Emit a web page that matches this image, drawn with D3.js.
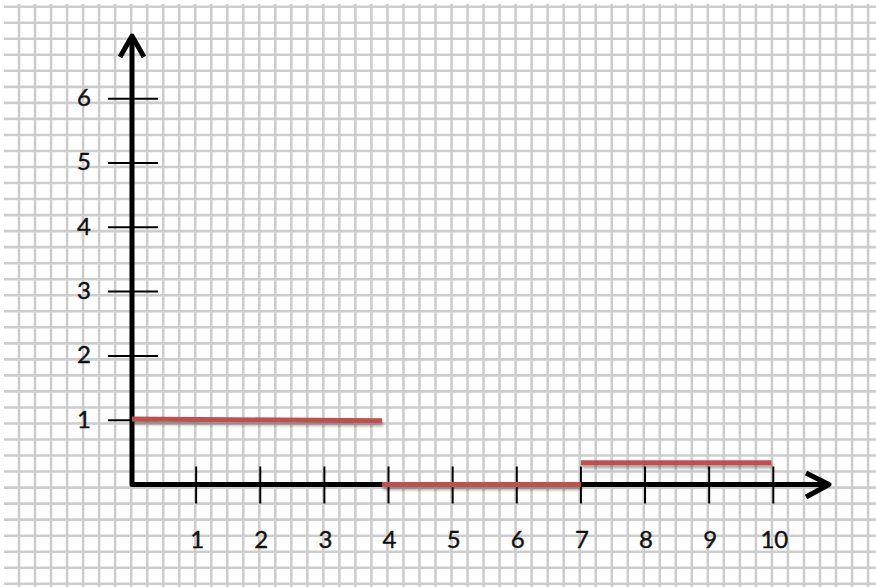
<!DOCTYPE html>
<html>
<head>
<meta charset="utf-8">
<script src="https://cdn.jsdelivr.net/npm/d3@7"></script>
<style>
  body { margin: 0; background: #fff; }
  text { font-family: Lato, "Open Sans", sans-serif; }
</style>
</head>
<body>
<div id="body"></div>
<script>
// tick labels
var xTicks = [1, 2, 3, 4, 5, 6, 7, 8, 9, 10];
var yTicks = [1, 2, 3, 4, 5, 6];

// step pieces: start x, end x, value at start, value at end
var stepStart = [0, 3.9, 7];
var stepEnd = [3.9, 7, 9.97];
var stepFrom = [1.02, 0, 0.34];
var stepTo = [0.99, 0, 0.34];

var width = 876;
var height = 587;

var x = d3.scaleLinear().domain([0, 10]).range([132, 773.3]);
var y = d3.scaleLinear().domain([0, 6]).range([484.5, 98.7]);

var svg = d3.select("#body")
  .append("svg")
  .attr("width", width)
  .attr("height", height);

svg.append("rect")
  .attr("width", width)
  .attr("height", height)
  .attr("fill", "#fff");

// user space region, a flat line has no bbox height
var shadow = svg.append("defs").append("filter")
  .attr("id", "shadow")
  .attr("filterUnits", "userSpaceOnUse")
  .attr("x", 0).attr("y", 0)
  .attr("width", width).attr("height", height);
shadow.append("feDropShadow")
  .attr("dx", 1)
  .attr("dy", 3)
  .attr("stdDeviation", 1.6)
  .attr("flood-color", "#000")
  .attr("flood-opacity", 0.35);

// graph paper
var grid = svg.append("g")
  .attr("stroke", "#cdcdcd")
  .attr("stroke-width", 2.6);

grid.selectAll("line.v")
  .data(d3.range(19, width, 16.02))
  .enter().append("line")
  .attr("class", "v")
  .attr("x1", function(d) { return d; })
  .attr("x2", function(d) { return d; })
  .attr("y1", 4)
  .attr("y2", height);

grid.selectAll("line.h")
  .data(d3.range(6.7, height, 16.03))
  .enter().append("line")
  .attr("class", "h")
  .attr("x1", 4)
  .attr("x2", width)
  .attr("y1", function(d) { return d; })
  .attr("y2", function(d) { return d; });

// tick marks
var ticks = svg.append("g")
  .attr("stroke", "#000")
  .attr("stroke-width", 2);

ticks.selectAll("line.xt")
  .data(xTicks)
  .enter().append("line")
  .attr("class", "xt")
  .attr("x1", function(d) { return x(d); })
  .attr("x2", function(d) { return x(d); })
  .attr("y1", y(0) - 18)
  .attr("y2", y(0) + 19);

ticks.selectAll("line.yt")
  .data(yTicks)
  .enter().append("line")
  .attr("class", "yt")
  .attr("x1", x(0) - 24)
  .attr("x2", x(0) + 26)
  .attr("y1", function(d) { return y(d); })
  .attr("y2", function(d) { return y(d); });

// axes with open arrow heads
var axes = svg.append("g")
  .attr("fill", "none")
  .attr("stroke", "#000")
  .attr("stroke-width", 5)
  .attr("stroke-linejoin", "round");

axes.append("path")
  .attr("d", "M" + x(0) + ",37 L" + x(0) + "," + y(0) + " L828," + y(0));

axes.append("path")
  .attr("d", "M" + (x(0) - 12) + ",57 L" + x(0) + ",36 L" + (x(0) + 12) + ",57");

axes.append("path")
  .attr("d", "M806,473 L829," + y(0) + " L806,497");

// step segments
var steps = stepStart.map(function(d, i) {
  return { x0: d, x1: stepEnd[i], y0: stepFrom[i], y1: stepTo[i] };
});

svg.append("g")
  .attr("filter", "url(#shadow)")
  .selectAll("line")
  .data(steps)
  .enter().append("line")
  .attr("x1", function(d) { return x(d.x0); })
  .attr("x2", function(d) { return x(d.x1); })
  .attr("y1", function(d) { return y(d.y0); })
  .attr("y2", function(d) { return y(d.y1); })
  .attr("stroke", "#c0504d")
  .attr("stroke-width", 5);

// labels
svg.append("g")
  .attr("font-size", 24)
  .attr("fill", "#111")
  .attr("stroke", "#111")
  .attr("stroke-width", 0.4)
  .attr("text-anchor", "middle")
  .selectAll("text")
  .data(xTicks)
  .enter().append("text")
  .attr("x", function(d) { return x(d) + 1; })
  .attr("y", 540)
  .attr("dy", "0.35em")
  .text(function(d) { return d; });

svg.append("g")
  .attr("font-size", 24)
  .attr("fill", "#111")
  .attr("stroke", "#111")
  .attr("stroke-width", 0.4)
  .attr("text-anchor", "middle")
  .selectAll("text")
  .data(yTicks)
  .enter().append("text")
  .attr("x", 84)
  .attr("y", function(d) { return y(d) - 1; })
  .attr("dy", "0.35em")
  .text(function(d) { return d; });
</script>
</body>
</html>
